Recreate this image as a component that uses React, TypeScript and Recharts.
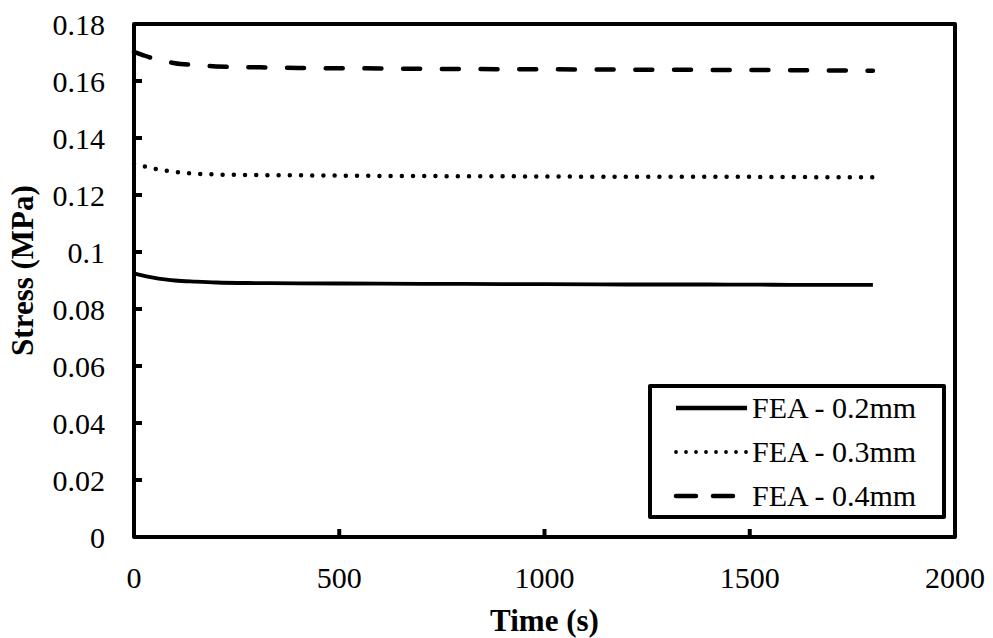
import { LineChart, Line, XAxis, YAxis, ReferenceArea, Legend } from "recharts";

const FONT = '"Liberation Serif", "Times New Roman", serif';

// time samples (s)
const time = [0, 20, 40, 60, 80, 100, 150, 200, 300, 400, 600, 800, 1000, 1200, 1400, 1600, 1800];

// stress (MPa) for each gap size
const fea02 = [0.0925, 0.0918, 0.0912, 0.0907, 0.0903, 0.09, 0.0896, 0.0893, 0.0891, 0.089, 0.0889, 0.0888, 0.0887, 0.0886, 0.0886, 0.0885, 0.0885];
const fea03 = [0.131, 0.1303, 0.1295, 0.1289, 0.1285, 0.1281, 0.1275, 0.1272, 0.127, 0.1269, 0.1267, 0.1266, 0.1265, 0.1264, 0.1264, 0.1263, 0.1262];
const fea04 = [0.1702, 0.1692, 0.1682, 0.1674, 0.1668, 0.1662, 0.1656, 0.1651, 0.1648, 0.1646, 0.1644, 0.1642, 0.1641, 0.164, 0.1639, 0.1638, 0.1636];

const xTicks = [0, 500, 1000, 1500, 2000];
const yTicks = [0, 0.02, 0.04, 0.06, 0.08, 0.1, 0.12, 0.14, 0.16, 0.18];

const series = [
  { key: "fea02", name: "FEA - 0.2mm", width: 3.8, dash: undefined as string | undefined, cap: "butt" },
  { key: "fea03", name: "FEA - 0.3mm", width: 4.5, dash: "0 11.2", cap: "round" },
  { key: "fea04", name: "FEA - 0.4mm", width: 4.5, dash: "17 21.7", cap: "round" },
];

const data = time.map((t, i) => ({ t, fea02: fea02[i], fea03: fea03[i], fea04: fea04[i] }));

const XTick = (props: any) => {
  const { x, y, payload } = props;
  return (
    <g>
      {payload.value > 0 && payload.value < 2000 && (
        <line x1={x} y1={y} x2={x} y2={y - 8} stroke="#000" strokeWidth={4} />
      )}
      <text x={x} y={y + 40} textAnchor="middle" dominantBaseline="central" fontFamily={FONT} fontSize={30} fill="#000">
        {payload.value}
      </text>
    </g>
  );
};

const YTick = (props: any) => {
  const { x, y, payload } = props;
  return (
    <g>
      {payload.value > 0 && payload.value < 0.18 && (
        <line x1={x} y1={y} x2={x + 8} y2={y} stroke="#000" strokeWidth={4} />
      )}
      <text x={x - 29} y={y} textAnchor="end" dominantBaseline="central" fontFamily={FONT} fontSize={30} fill="#000">
        {String(Number(payload.value.toFixed(2)))}
      </text>
    </g>
  );
};

const XTitle = ({ viewBox }: any) => (
  <text
    x={viewBox.x + viewBox.width / 2}
    y={viewBox.y + 83}
    textAnchor="middle"
    dominantBaseline="central"
    fontFamily={FONT}
    fontWeight="bold"
    fontSize={31}
    fill="#000"
  >
    Time (s)
  </text>
);

const YTitle = ({ viewBox }: any) => {
  const cx = viewBox.x + 22;
  const cy = viewBox.y + viewBox.height / 2 - 10;
  return (
    <text
      x={cx}
      y={cy}
      transform={`rotate(-90, ${cx}, ${cy})`}
      textAnchor="middle"
      dominantBaseline="central"
      fontFamily={FONT}
      fontWeight="bold"
      fontSize={31}
      fill="#000"
    >
      Stress (MPa)
    </text>
  );
};

const LegendBox = () => (
  <div
    style={{
      boxSizing: "border-box",
      width: 298,
      height: 135,
      border: "4px solid #000",
      borderRadius: 2,
      background: "#fff",
      fontFamily: FONT,
      fontSize: 30,
      color: "#000",
    }}
  >
    {series.map((s, i) => (
      <div key={s.key} style={{ display: "flex", alignItems: "center", height: 44, marginTop: i === 0 ? -2 : 0 }}>
        <svg width={100} height={12} style={{ display: "block" }}>
          <line
            x1={24}
            y1={6}
            x2={95}
            y2={6}
            stroke="#000"
            strokeWidth={s.key === "fea03" ? 3.8 : 4.5}
            strokeDasharray={s.key === "fea03" ? "0 10" : s.key === "fea04" ? "20 17" : undefined}
            strokeLinecap={s.key === "fea02" ? "butt" : "round"}
          />
        </svg>
        <span style={{ lineHeight: "44px", whiteSpace: "nowrap" }}>{s.name}</span>
      </div>
    ))}
  </div>
);

export default function App() {
  return (
    <div style={{ position: "absolute", left: 0, top: 0, background: "#fff" }}>
      <LineChart width={993} height={638} data={data} margin={{ top: 24, right: 38, bottom: 0, left: 0 }}>
        <XAxis
          dataKey="t"
          type="number"
          domain={[0, 2000]}
          ticks={xTicks}
          height={101}
          axisLine={false}
          tickLine={false}
          tickSize={0}
          tickMargin={0}
          tick={<XTick />}
          interval={0}
          label={<XTitle />}
        />
        <YAxis
          type="number"
          domain={[0, 0.18]}
          ticks={yTicks}
          width={134}
          axisLine={false}
          tickLine={false}
          tickSize={0}
          tickMargin={0}
          tick={<YTick />}
          interval={0}
          label={<YTitle />}
        />
        <ReferenceArea x1={0} x2={2000} y1={0} y2={0.18} fill="none" stroke="#000" strokeWidth={4} strokeLinejoin="round" />
        {series.map((s) => (
          <Line
            key={s.key}
            dataKey={s.key}
            name={s.name}
            type="monotone"
            stroke="#000"
            strokeWidth={s.width}
            strokeDasharray={s.dash}
            strokeLinecap={s.cap as any}
            dot={false}
            activeDot={false}
            isAnimationActive={false}
          />
        ))}
        <Legend
          layout="vertical"
          align="center"
          verticalAlign="middle"
          content={<LegendBox />}
          wrapperStyle={{ left: 648, top: 384, width: 298, height: 135 }}
        />
      </LineChart>
    </div>
  );
}
